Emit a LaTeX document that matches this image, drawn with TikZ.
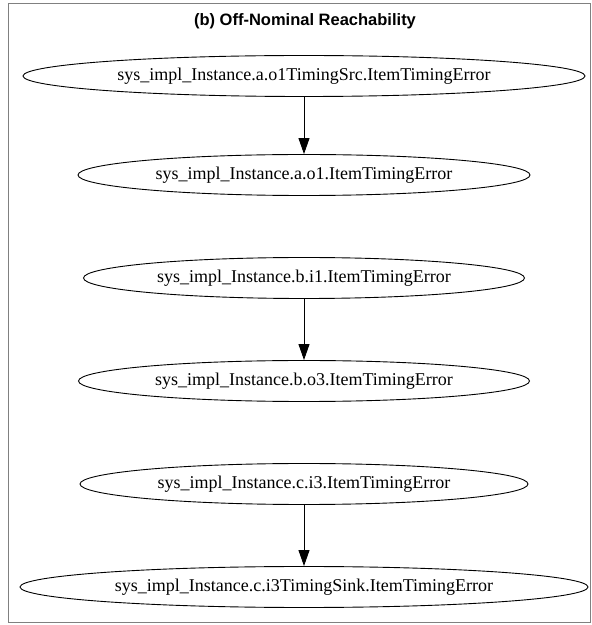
\documentclass[tikz,border=0pt]{standalone}
\usepackage{fontspec}
\setmainfont{Liberation Serif}
\newfontfamily\titlefont{Liberation Sans}
\usetikzlibrary{shapes.geometric, arrows.meta}
\tikzstyle{event} = [
    ellipse,
    inner sep=0pt,
    minimum height=41pt,
    line width=0.9pt,
    draw=black,
    font=\fontsize{18}{21}\selectfont
]
\tikzstyle{arrow} = [line width=0.9pt,-{Triangle[length=16pt,width=11pt]}]

\begin{document}
\begin{tikzpicture}[node distance=103pt]

\useasboundingbox (0,0) rectangle (592pt,625pt);
\draw [gray] (8pt,3pt) rectangle (590pt,622pt);

\node (title) at (305pt,604pt) {\titlefont\bfseries\fontsize{16.5}{19}\selectfont (b) Off-Nominal Reachability};

\node (src) [event, minimum width=562pt] at (304pt,549pt)
{sys\_impl\_Instance.a.o1TimingSrc.ItemTimingError};

\node (ao1) [event, minimum width=452pt, below of=src, yshift=4pt]
{sys\_impl\_Instance.a.o1.ItemTimingError};

\node (bi1) [event, minimum width=441pt, below of=ao1]
{sys\_impl\_Instance.b.i1.ItemTimingError};

\node (bo3) [event, minimum width=451pt, below of=bi1]
{sys\_impl\_Instance.b.o3.ItemTimingError};

\node (ci3) [event, minimum width=448pt, below of=bo3]
{sys\_impl\_Instance.c.i3.ItemTimingError};

\node (sink) [event, minimum width=568pt, below of=ci3]
{sys\_impl\_Instance.c.i3TimingSink.ItemTimingError};

\draw [arrow] (src) -- (ao1);
\draw [arrow] (bi1) -- (bo3);
\draw [arrow] (ci3) -- (sink);

\end{tikzpicture}
\end{document}
